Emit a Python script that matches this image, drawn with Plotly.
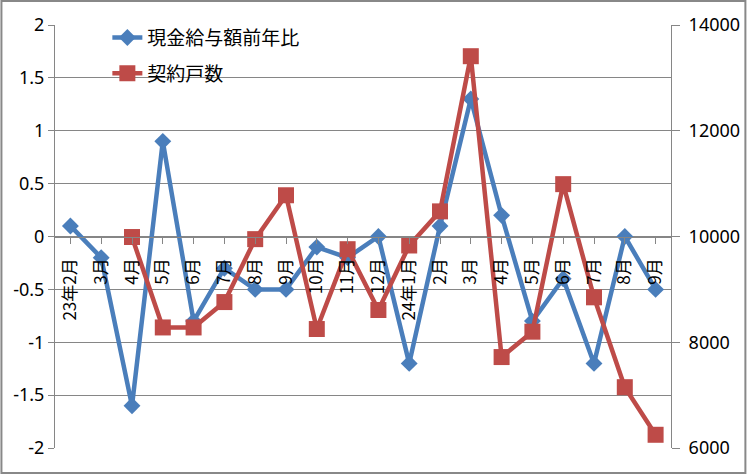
import plotly.graph_objects as go

# Monthly categories, 2023/02 - 2024/09
categories = ["23年2月", "3月", "4月", "5月", "6月", "7月", "8月", "9月", "10月", "11月",
              "12月", "24年1月", "2月", "3月", "4月", "5月", "6月", "7月", "8月", "9月"]

# 現金給与額前年比 (left axis, %)
wage_yoy = [0.1, -0.2, -1.6, 0.9, -0.8, -0.3, -0.5, -0.5, -0.1, -0.2,
            0.0, -1.2, 0.1, 1.3, 0.2, -0.8, -0.4, -1.2, 0.0, -0.5]

# 契約戸数 (right axis), no data before 23年4月
contracts = [None, None, 9990, 8280, 8280, 8760, 9950, 10780, 8250, 9760,
             8610, 9830, 10475, 13410, 7720, 8200, 10990, 8850, 7150, 6250]

left_ticks = [-2, -1.5, -1, -0.5, 0, 0.5, 1, 1.5, 2]
left_tick_text = ["-2", "-1.5", "-1", "-0.5", "0", "0.5", "1", "1.5", "2"]
right_ticks = [6000, 8000, 10000, 12000, 14000]
right_tick_text = ["6000", "8000", "10000", "12000", "14000"]

BLUE = "#4A7EBB"
RED = "#BE4B48"
GRID = "#868686"
FONT = "Noto Sans, Noto Sans CJK JP"

x = list(range(len(categories)))

fig = go.Figure()
fig.add_trace(go.Scatter(
    x=x, y=wage_yoy, name="現金給与額前年比", mode="lines+markers",
    line=dict(color=BLUE, width=4.5),
    marker=dict(symbol="diamond", size=13, color=BLUE),
    legendgroup="a",
))
fig.add_trace(go.Scatter(
    x=x, y=contracts, name="契約戸数", mode="lines+markers", yaxis="y2",
    line=dict(color=RED, width=4.5),
    marker=dict(symbol="square", size=16, color=RED),
    connectgaps=False, legendgroup="b",
))

W, H = 752, 474
ML, MR, MT, MB = 55, 76, 25, 26
pw, ph = W - ML - MR, H - MT - MB

fig.update_layout(
    width=W, height=H,
    margin=dict(l=ML, r=MR, t=MT, b=MB, pad=0),
    paper_bgcolor="white", plot_bgcolor="white",
    font=dict(family=FONT, size=18, color="black"),
    showlegend=True,
    legend=dict(
        x=0.085, y=1.015, xanchor="left", yanchor="top",
        bgcolor="rgba(0,0,0,0)", font=dict(size=19, family="Noto Sans CJK JP"),
        traceorder="grouped", tracegroupgap=8,
    ),
    xaxis=dict(
        range=[-0.5, len(categories) - 0.5],
        tickmode="array", tickvals=x, ticktext=categories,
        tickangle=-90, tickfont=dict(size=17, family="Noto Sans CJK JP"),
        anchor="free", position=0.5,
        showline=True, linecolor=GRID, linewidth=1,
        ticks="outside", tickson="boundaries", ticklen=6, tickcolor=GRID,
        showgrid=False, zeroline=False,
        ticklabelstandoff=8,
    ),
    yaxis=dict(
        range=[-2, 2], tickmode="array", tickvals=left_ticks, ticktext=left_tick_text,
        showgrid=True, gridcolor=GRID, gridwidth=1,
        showline=True, linecolor=GRID, linewidth=1,
        ticks="outside", ticklen=6, tickcolor=GRID,
        zeroline=False, tickfont=dict(size=18),
    ),
    yaxis2=dict(
        range=[6000, 14000], tickmode="array", tickvals=right_ticks, ticktext=right_tick_text,
        overlaying="y", side="right",
        showgrid=False, showline=True, linecolor=GRID, linewidth=1,
        ticks="outside", ticklen=8, tickcolor=GRID,
        zeroline=False, tickfont=dict(size=18),
        ticklabelstandoff=5,
    ),
)

# Chart-area frame around the whole figure
fig.add_shape(
    type="rect", xref="paper", yref="paper",
    x0=(1 - ML) / pw, x1=(W - 1 - ML) / pw,
    y0=-(MB - 1) / ph, y1=(ph + MT - 1) / ph,
    line=dict(color="#888888", width=2), fillcolor="rgba(0,0,0,0)",
    layer="above",
)

fig.write_html("out.html")
